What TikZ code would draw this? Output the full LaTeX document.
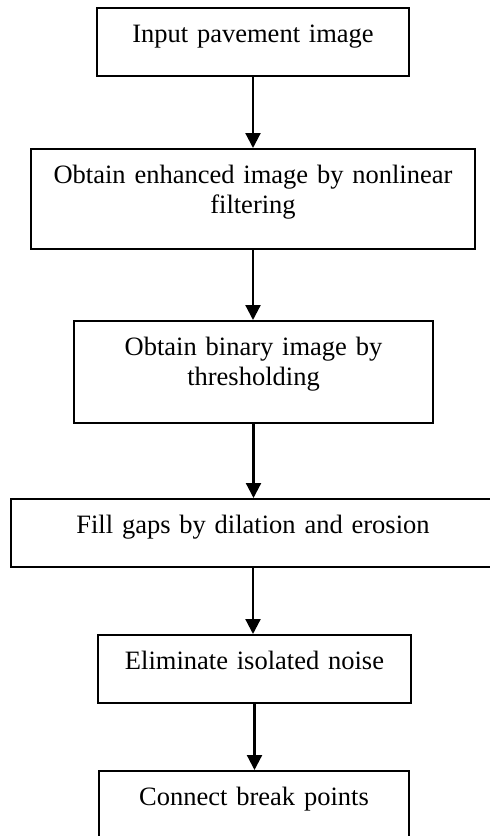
\documentclass[tikz,border=0pt]{standalone}
\usepackage{fontspec}
\setmainfont{Liberation Serif}
\usepackage{tikz}
\usetikzlibrary{arrows.meta,calc}

\tikzset{
  stepbox/.style={draw, line width=1.6pt, anchor=north, align=center, inner sep=0pt,
    font=\fontsize{26.5}{30}\selectfont, text height=35pt},
  flow/.style={line width=2.2pt, -{Triangle[length=15pt,width=15pt]}}
}

\begin{document}
\begin{tikzpicture}[x=1pt,y=-1pt]
            \clip (0,0) rectangle (490,836);
            \node[stepbox, text width=312pt, text depth=33pt] (Input) at (253,7) {Input pavement image};
            \node[stepbox, text width=444pt, text depth=65pt] (Enhance) at (253,148) {Obtain enhanced image by nonlinear\\filtering};
            \node[stepbox, text width=359pt, text depth=67pt] (Binary) at (253.5,320) {Obtain binary image by\\thresholding};
            \node[stepbox, text width=484pt, text depth=33pt] (Fill) at (253,498) {Fill gaps by dilation and erosion};
            \node[stepbox, text width=313pt, text depth=33pt] (Noise) at (254.5,634) {Eliminate isolated noise};
            \node[stepbox, text width=310pt, text depth=50pt] (Connect) at (254,770) {Connect break points};
            \draw[flow] (Input.south) -- (Enhance.north);
            \draw[flow] (Enhance.south) -- (Binary.north -| Enhance.south);
            \draw[flow] (Binary.south) -- (Fill.north -| Binary.south);
            \draw[flow] (Fill.south) -- (Noise.north -| Fill.south);
            \draw[flow] (Noise.south) -- (Connect.north -| Noise.south);
\end{tikzpicture}
\end{document}
